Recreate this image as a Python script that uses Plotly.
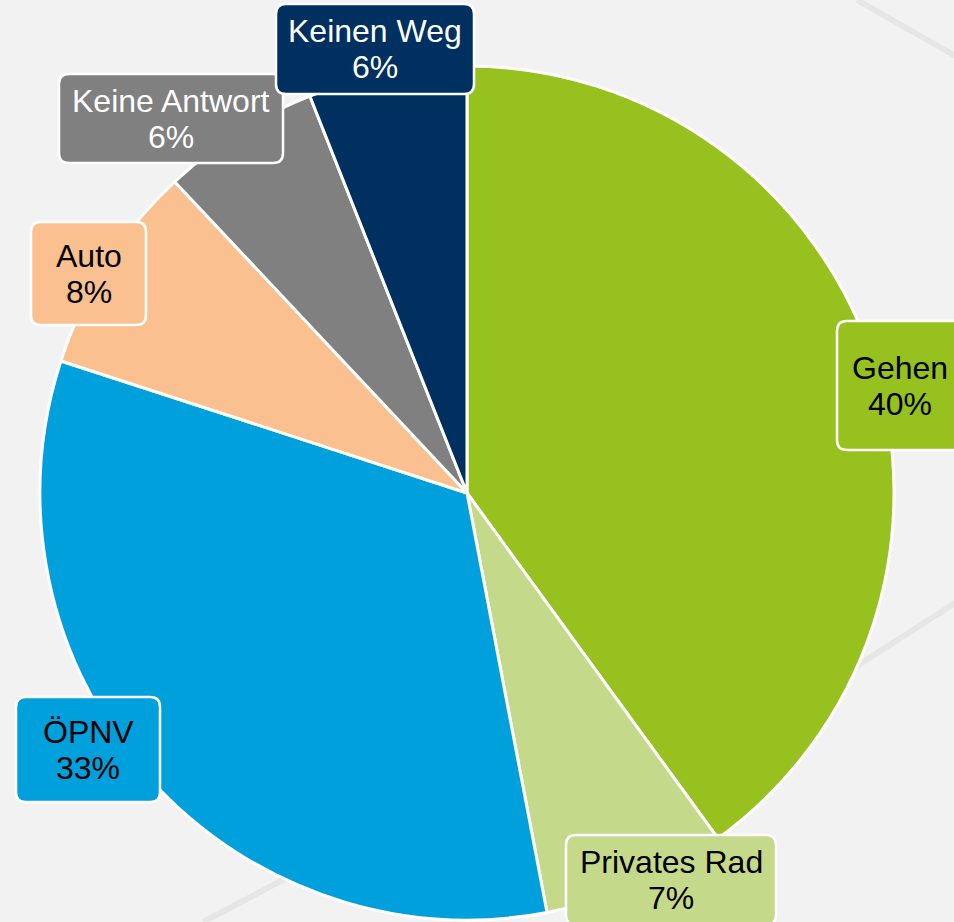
import plotly.graph_objects as go

# ---- data ----
categories = ["Gehen", "Privates Rad", "ÖPNV", "Auto", "Keine Antwort", "Keinen Weg"]
shares = [40, 7, 33, 8, 6, 6]

# ---- styles ----
slice_colors = ["#96C11F", "#C5D98B", "#00A0DC", "#FAC090", "#808080", "#00305F"]
label_text_colors = ["#000000", "#000000", "#000000", "#000000", "#FFFFFF", "#FFFFFF"]

W, H = 954, 922
BG = "#F2F2F2"

# label box layout in page pixels (x0, y0, x1, y1)
label_boxes = [
    (837, 321, 972, 450),
    (566, 835, 776, 925),
    (16, 697, 160, 802),
    (31, 222, 146, 325),
    (59, 74, 283, 163),
    (276, 4, 474, 94),
]
# horizontal text nudge inside box (keeps the clipped "Gehen" readable)
label_text_dx = [-4, 0, 0, 0, 0, 0]

# pie placement (pixels)
cx, cy, r = 467, 493, 427


def rounded_rect(x0, y0, x1, y1, rad=10):
    return (f"M {x0+rad},{y0} L {x1-rad},{y0} Q {x1},{y0} {x1},{y0+rad} "
            f"L {x1},{y1-rad} Q {x1},{y1} {x1-rad},{y1} L {x0+rad},{y1} "
            f"Q {x0},{y1} {x0},{y1-rad} L {x0},{y0+rad} Q {x0},{y0} {x0+rad},{y0} Z")


fig = go.Figure()

fig.add_trace(go.Pie(
    labels=categories,
    values=shares,
    sort=False,
    direction="clockwise",
    rotation=0,
    marker=dict(colors=slice_colors, line=dict(color="#FFFFFF", width=3)),
    textinfo="none",
    hoverinfo="label+percent",
    showlegend=False,
    domain=dict(x=[(cx - r) / W, (cx + r) / W],
                y=[(H - cy - r) / H, (H - cy + r) / H]),
))

shapes = []
# faint background diagonal lines
bg_lines = [
    (857, 0, 1100, 138),
    (1100, 510, 150, 1120),
    (203, 922, 700, 660),
]
for x0, y0, x1, y1 in bg_lines:
    shapes.append(dict(type="line", xref="x", yref="y", x0=x0, y0=y0, x1=x1, y1=y1,
                       line=dict(color="#E6E6E6", width=6), layer="below"))

annotations = []
for cat, val, col, tcol, box, dx in zip(categories, shares, slice_colors, label_text_colors,
                                        label_boxes, label_text_dx):
    x0, y0, x1, y1 = box
    shapes.append(dict(type="path", xref="x", yref="y", path=rounded_rect(x0, y0, x1, y1),
                       fillcolor=col, line=dict(color="#FFFFFF", width=2.5), layer="above"))
    mx = min((x0 + x1) / 2, W - 50) + dx
    my = (y0 + y1) / 2
    for txt, dy in ((cat, -18), (f"{val}%", 18)):
        annotations.append(dict(x=mx, y=my + dy, xref="x", yref="y", text=txt, showarrow=False,
                                xanchor="center", yanchor="middle",
                                font=dict(family="Liberation Sans, Arial, sans-serif", size=32, color=tcol)))

fig.update_layout(
    width=W, height=H,
    margin=dict(l=0, r=0, t=0, b=0),
    paper_bgcolor=BG, plot_bgcolor=BG,
    xaxis=dict(range=[0, W], visible=False, fixedrange=True),
    yaxis=dict(range=[H, 0], visible=False, fixedrange=True),
    shapes=shapes,
    annotations=annotations,
    showlegend=False,
)

fig.write_html("out.html", config={"displayModeBar": False})

# remove the default browser page margin so the figure fills the window
with open("out.html", "r", encoding="utf-8") as f:
    html = f.read()
html = html.replace("<head>", "<head><style>html,body{margin:0;padding:0;overflow:hidden;background:#F2F2F2;}</style>", 1)
with open("out.html", "w", encoding="utf-8") as f:
    f.write(html)
